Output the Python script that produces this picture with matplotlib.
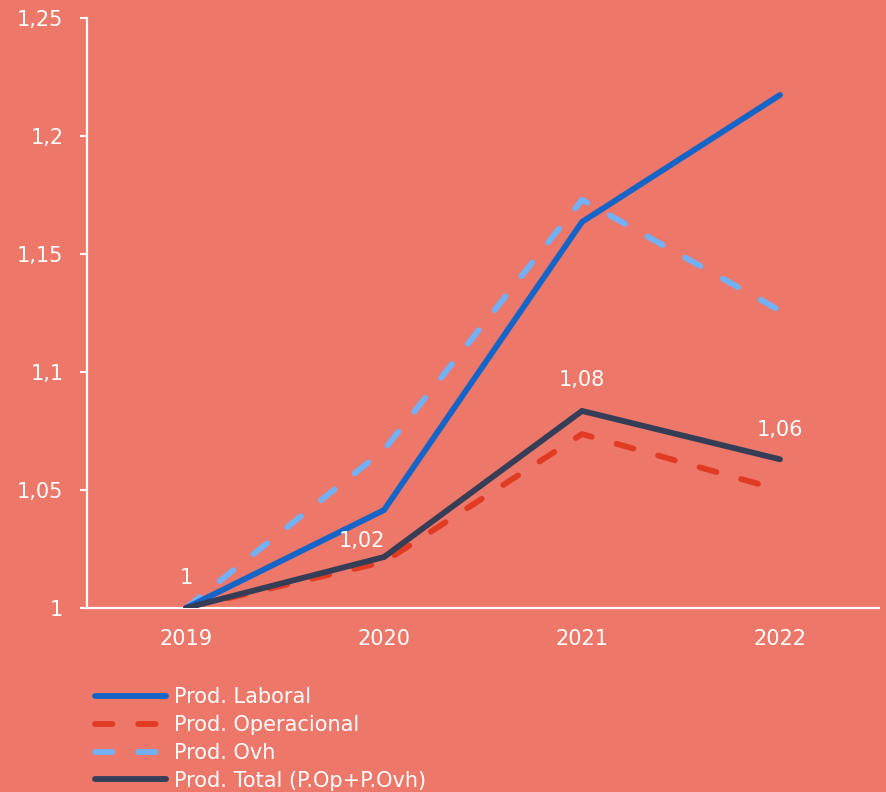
import matplotlib
matplotlib.use("Agg")
import matplotlib.pyplot as plt
from matplotlib.ticker import FuncFormatter

years = ["2019", "2020", "2021", "2022"]
laboral = [1.0, 1.0415, 1.1636, 1.2174]
operacional = [1.0, 1.0195, 1.0737, 1.050]
ovh = [1.0, 1.067, 1.173, 1.126]
total = [1.0, 1.0216, 1.0835, 1.063]
total_labels = ["1", "1,02", "1,08", "1,06"]
# pixel nudges for the data labels (dx, dy)
label_dx = [0, -22, 0, 0]
label_dy = [30, 16, 31, 29]

bg = "#ED7769"
white = "white"
fs = 15

plt.rcParams["font.family"] = "DejaVu Sans"

fig = plt.figure(figsize=(8.86, 7.92), dpi=100, facecolor=bg)
ax = fig.add_axes([87 / 886, 1 - 608 / 792, 792 / 886, 590 / 792])
ax.set_facecolor(bg)

x = list(range(len(years)))
lw = 4.2
ax.plot(x, laboral, color="#1565C8", lw=lw, solid_capstyle="round",
        solid_joinstyle="miter", label="Prod. Laboral", zorder=3)
ax.plot(x, operacional, color="#E23B24", lw=lw, dashes=(3.0, 4.4),
        dash_capstyle="round", label="Prod. Operacional", zorder=2)
ax.plot(x, ovh, color="#72B0F8", lw=lw, dashes=(3.0, 4.4),
        dash_capstyle="round", label="Prod. Ovh", zorder=2)
ax.plot(x, total, color="#363E57", lw=lw, solid_capstyle="round",
        solid_joinstyle="miter", label="Prod. Total (P.Op+P.Ovh)", zorder=4)

for i, (v, t) in enumerate(zip(total, total_labels)):
    ax.annotate(t, (x[i], v), xytext=(label_dx[i] * 0.72, label_dy[i] * 0.72),
                textcoords="offset points", ha="center", va="center",
                color=white, fontsize=fs)

ax.set_xlim(-0.5, 3.5)
ax.set_ylim(1.0, 1.25)
ax.set_xticks(x)
ax.set_xticklabels(years)
ax.set_yticks([1.0, 1.05, 1.1, 1.15, 1.2, 1.25])
ax.yaxis.set_major_formatter(FuncFormatter(lambda v, p: f"{v:g}".replace(".", ",")))

ax.tick_params(axis="x", length=0, pad=15, colors=white, labelsize=fs)
ax.tick_params(axis="y", length=5, width=1.5, pad=12, colors=white, labelsize=fs)

for s in ["top", "right"]:
    ax.spines[s].set_visible(False)
for s in ["left", "bottom"]:
    ax.spines[s].set_color(white)
    ax.spines[s].set_linewidth(1.6)

handles, labels = ax.get_legend_handles_labels()
fig.legend(handles, labels, loc="upper left", bbox_to_anchor=(95 / 886, 1 - 687 / 792),
           frameon=False, fontsize=fs, labelcolor=white, handlelength=3.4,
           handletextpad=0.4, labelspacing=0.38, borderpad=0, borderaxespad=0)

fig.savefig("out.png", dpi=100, facecolor=bg)
